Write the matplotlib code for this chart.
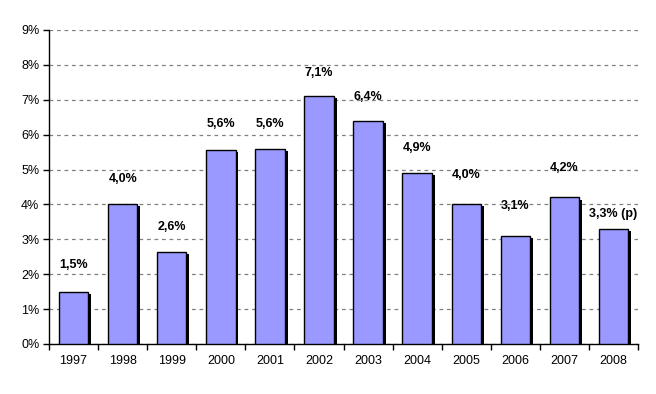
import numpy as np
import matplotlib
matplotlib.use('Agg')
import matplotlib.pyplot as plt

# données
years = ['1997', '1998', '1999', '2000', '2001', '2002',
         '2003', '2004', '2005', '2006', '2007', '2008']
values = [1.5, 4.0, 2.65, 5.55, 5.6, 7.1, 6.4, 4.9, 4.0, 3.1, 4.2, 3.3]
labels = ['1,5%', '4,0%', '2,6%', '5,6%', '5,6%', '7,1%',
          '6,4%', '4,9%', '4,0%', '3,1%', '4,2%', '3,3% (p)']

plt.rcParams['font.family'] = ['Liberation Sans', 'DejaVu Sans']

fig = plt.figure(figsize=(6.56, 3.94), dpi=100)
ax = fig.add_axes([0.0747, 0.127, 0.898, 0.797])

x = np.arange(len(years))
w = 0.6
# ombre noire
ax.bar(x + 0.06, np.array(values) - 0.06, width=w, color='black', zorder=2)
ax.bar(x, values, width=w, color='#9999FF', edgecolor='black', linewidth=1, zorder=3)

# position des étiquettes (décalage au-dessus de la barre)
offs = [0.76, 0.73, 0.7, 0.75, 0.7, 0.67, 0.68, 0.72, 0.84, 0.85, 0.84, 0.42]
for i in range(len(values)):
    ax.text(x[i], values[i] + offs[i], labels[i], ha='center', va='center',
            fontsize=9, fontweight='bold', zorder=4)

ax.set_xlim(-0.5, len(years) - 0.5)
ax.set_ylim(0, 9)
ax.set_yticks(range(0, 10))
ax.set_yticklabels([str(i) + '%' for i in range(0, 10)])
ax.set_xticks(x)
ax.set_xticklabels(years)
ax.set_xticks(np.arange(-0.5, len(years)), minor=True)
ax.tick_params(axis='x', which='major', length=0, pad=8, labelsize=9)
ax.tick_params(axis='x', which='minor', length=4, width=1, direction='out')
ax.tick_params(axis='y', length=4, width=1, direction='out', labelsize=9, pad=3)

ax.yaxis.grid(True, linestyle=(0, (3, 3)), color='#808080', linewidth=0.9, zorder=0)
ax.set_axisbelow(True)
ax.spines['top'].set_visible(False)
ax.spines['right'].set_visible(False)
ax.spines['left'].set_linewidth(1)
ax.spines['bottom'].set_linewidth(1)

plt.savefig('out.png', dpi=100)
